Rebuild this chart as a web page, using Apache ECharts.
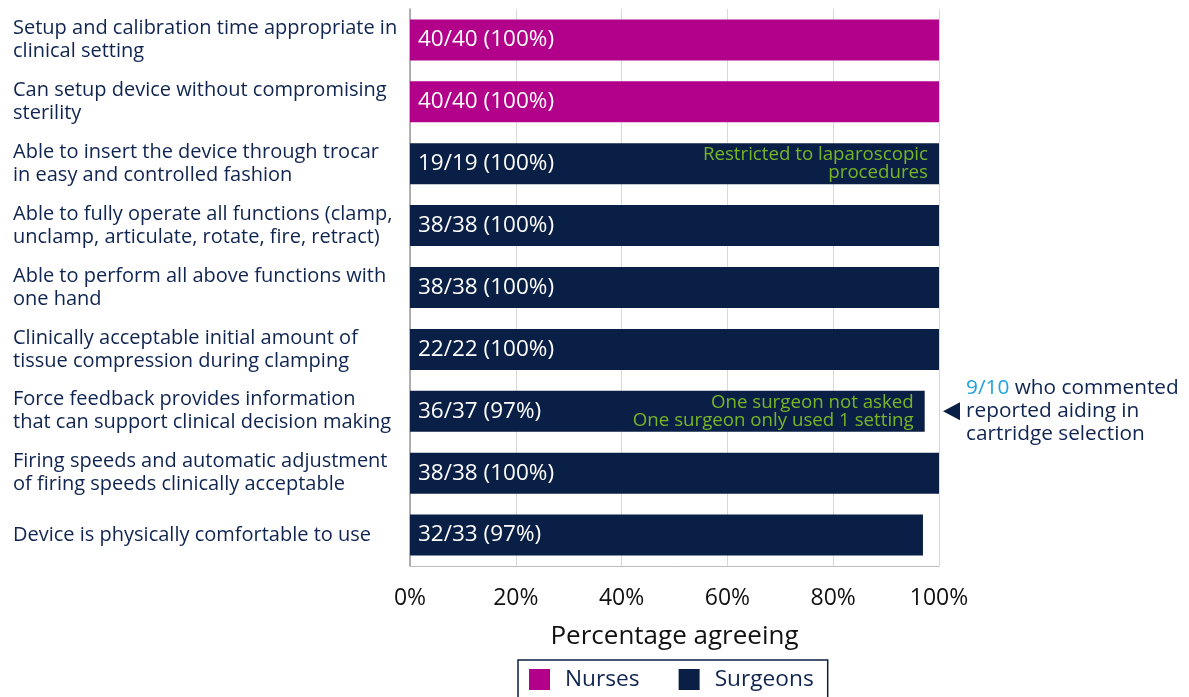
<!DOCTYPE html>
<html>
<head>
<meta charset="utf-8">
<script src="https://cdn.jsdelivr.net/npm/echarts@6/dist/echarts.min.js"></script>
<style>
  html, body { margin: 0; padding: 0; background: #fff; }
  #chart { width: 1189px; height: 697px; }
</style>
</head>
<body>
<div id="chart"></div>
<script>
// Survey statements (top to bottom)
const categories = [
  'Setup and calibration time appropriate in\nclinical setting',
  'Can setup device without compromising\nsterility',
  'Able to insert the device through trocar\nin easy and controlled fashion',
  'Able to fully operate all functions (clamp,\nunclamp, articulate, rotate, fire, retract)',
  'Able to perform all above functions with\none hand',
  'Clinically acceptable initial amount of\ntissue compression during clamping',
  'Force feedback provides information\nthat can support clinical decision making',
  'Firing speeds and automatic adjustment\nof firing speeds clinically acceptable',
  'Device is physically comfortable to use'
];
// Respondent group for each statement
const groups = ['Nurses', 'Nurses', 'Surgeons', 'Surgeons', 'Surgeons', 'Surgeons', 'Surgeons', 'Surgeons', 'Surgeons'];
// Number agreeing and number responding
const agreeing = [40, 40, 19, 38, 38, 22, 36, 38, 32];
const responding = [40, 40, 19, 38, 38, 22, 37, 38, 33];
// Notes written inside particular bars
const barNotes = [
  { row: 2, text: 'Restricted to laparoscopic\nprocedures' },
  { row: 6, text: 'One surgeon not asked\nOne surgeon only used 1 setting' }
];
const xTicks = [0, 20, 40, 60, 80, 100];

const colors = { Nurses: '#b2008b', Surgeons: '#0a1f45' };
const navyText = '#0f2450';
const noteGreen = '#78b526';
const FONT = '"Open Sans"';

const pct = agreeing.map((a, i) => a / responding[i] * 100);

function seriesFor(name) {
  const data = pct.map((v, i) => groups[i] === name ? v : '-');
  const s = {
    name,
    type: 'bar',
    stack: 'all',
    barWidth: 41,
    data,
    itemStyle: { color: colors[name] },
    label: {
      show: true,
      position: 'insideLeft',
      distance: 8,
      color: '#ffffff',
      fontFamily: FONT,
      fontSize: 22.5,
      formatter: p => `${agreeing[p.dataIndex]}/${responding[p.dataIndex]} (${Math.round(pct[p.dataIndex])}%)`
    }
  };
  const notes = barNotes.filter(n => groups[n.row] === name);
  if (notes.length) {
    s.markPoint = {
      symbol: 'rect',
      symbolSize: 0,
      silent: true,
      data: notes.map(n => ({ coord: [pct[n.row], categories[n.row]], value: n.text })),
      label: {
        show: true,
        position: 'left',
        distance: 11,
        color: noteGreen,
        fontFamily: FONT,
        fontSize: 18.7,
        lineHeight: 18,
        align: 'right',
        formatter: p => p.value
      }
    };
  }
  return s;
}

const chart = echarts.init(document.getElementById('chart'), null, { renderer: 'canvas' });

chart.setOption({
  animation: false,
  textStyle: { fontFamily: FONT },
  grid: { left: 410, right: 250, top: 9, bottom: 131, containLabel: false },
  xAxis: {
    type: 'value',
    min: 0,
    max: 100,
    interval: 20,
    axisLine: { show: true, lineStyle: { color: '#bdbdbd', width: 1 } },
    axisTick: { show: false },
    splitLine: { show: true, lineStyle: { color: '#d9d9d9', width: 1 } },
    axisLabel: {
      formatter: v => xTicks.includes(v) ? v + '%' : '',
      color: '#111111',
      fontFamily: FONT,
      fontSize: 23,
      margin: 21
    },
    name: 'Percentage agreeing',
    nameLocation: 'middle',
    nameGap: 58,
    nameTextStyle: { color: '#111111', fontFamily: FONT, fontSize: 26 }
  },
  yAxis: {
    type: 'category',
    inverse: true,
    data: categories,
    axisLine: { show: true, lineStyle: { color: '#9a9a9a', width: 1.5 } },
    axisTick: { show: false },
    axisLabel: {
      align: 'left',
      margin: 397,
      color: navyText,
      fontFamily: FONT,
      fontSize: 20,
      lineHeight: 23,
      padding: [8, 0, 0, 0]
    }
  },
  legend: {
    top: 660,
    left: 518,
    data: ['Nurses', 'Surgeons'],
    icon: 'rect',
    itemWidth: 21,
    itemHeight: 21,
    itemGap: 39,
    padding: [8, 14, 12, 11],
    borderColor: '#0a1f45',
    borderWidth: 1.5,
    textStyle: { color: navyText, fontFamily: FONT, fontSize: 22.7, padding: [0, 0, 0, 10] }
  },
  series: [seriesFor('Nurses'), seriesFor('Surgeons')]
});

// Callout beside the force-feedback row
const [, yRow] = chart.convertToPixel({ gridIndex: 0 }, [0, categories[6]]);
chart.setOption({
  graphic: [
    {
      type: 'polygon',
      shape: { points: [[943, yRow], [960, yRow - 9], [960, yRow + 9]] },
      style: { fill: '#0a1f45' }
    },
    {
      type: 'text',
      left: 966,
      top: yRow - 35,
      style: {
        text: '{hl|9/10} who commented\nreported aiding in\ncartridge selection',
        fontFamily: FONT,
        fontSize: 20.8,
        lineHeight: 23,
        fill: navyText,
        rich: { hl: { fill: '#1ea4de', fontFamily: FONT, fontSize: 20.8 } }
      }
    }
  ]
});
</script>
</body>
</html>
